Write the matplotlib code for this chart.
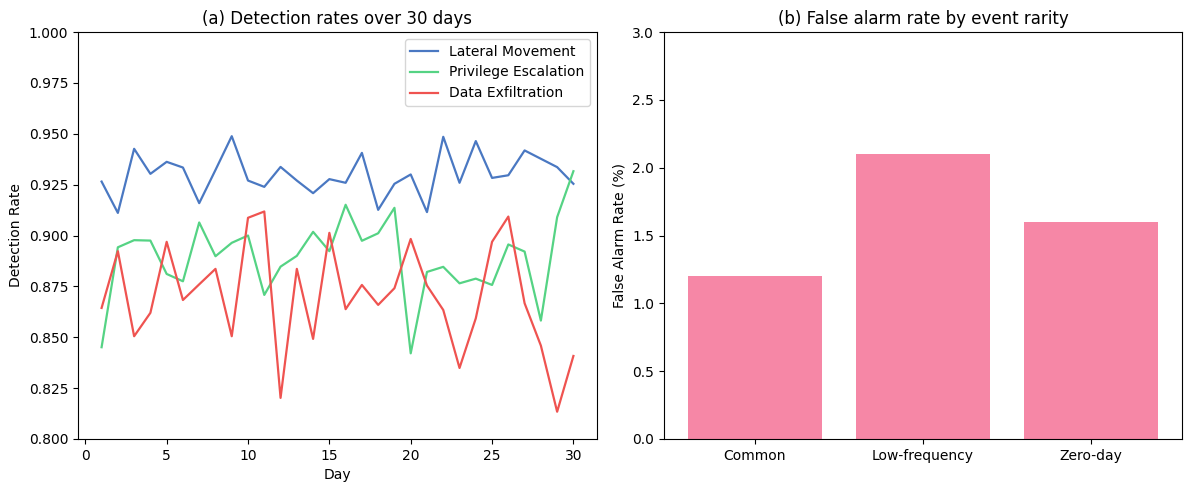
import numpy as np
import matplotlib
matplotlib.use("Agg")
import matplotlib.pyplot as plt

days = np.arange(1, 31)

lateral = [0.9265, 0.9111, 0.9426, 0.9303, 0.9362, 0.9334, 0.9159, 0.9322, 0.9488, 0.9270,
           0.9239, 0.9337, 0.9270, 0.9208, 0.9277, 0.9259, 0.9406, 0.9126, 0.9254, 0.9300,
           0.9115, 0.9485, 0.9259, 0.9464, 0.9283, 0.9296, 0.9418, 0.9377, 0.9336, 0.9254]
privilege = [0.8451, 0.8942, 0.8977, 0.8975, 0.8811, 0.8775, 0.9064, 0.8898, 0.8964, 0.9000,
             0.8708, 0.8847, 0.8900, 0.9018, 0.8923, 0.9151, 0.8974, 0.9011, 0.9136, 0.8421,
             0.8821, 0.8846, 0.8765, 0.8788, 0.8757, 0.8956, 0.8921, 0.8582, 0.9090, 0.9316]
exfil = [0.8644, 0.8923, 0.8505, 0.8620, 0.8969, 0.8683, 0.8760, 0.8836, 0.8505, 0.9087,
         0.9118, 0.8202, 0.8836, 0.8492, 0.9013, 0.8638, 0.8757, 0.8659, 0.8741, 0.8983,
         0.8754, 0.8634, 0.8349, 0.8593, 0.8969, 0.9093, 0.8667, 0.8459, 0.8134, 0.8408]

rarity = ['Common', 'Low-frequency', 'Zero-day']
false_alarm = [1.2, 2.1, 1.6]

W, H = 1184, 484
fig, (ax1, ax2) = plt.subplots(1, 2, figsize=(W / 100, H / 100), dpi=100)
ax1.set_position([78 / W, 1 - 439 / H, (597 - 78) / W, (439 - 32) / H])
ax2.set_position([664 / W, 1 - 439 / H, (1182 - 664) / W, (439 - 32) / H])

ax1.plot(days, lateral, color='#4a78c2', lw=1.6, label='Lateral Movement')
ax1.plot(days, privilege, color='#55d384', lw=1.6, label='Privilege Escalation')
ax1.plot(days, exfil, color='#ef5350', lw=1.6, label='Data Exfiltration')
ax1.set_ylim(0.8, 1.0)
ax1.set_title('(a) Detection rates over 30 days')
ax1.set_xlabel('Day')
ax1.set_ylabel('Detection Rate')
ax1.legend(loc='upper right')

ax2.bar(rarity, false_alarm, color='#f687a6')
ax2.set_ylim(0, 3.0)
ax2.set_title('(b) False alarm rate by event rarity')
ax2.set_ylabel('False Alarm Rate (%)')

fig.savefig('out.png', dpi=100)
